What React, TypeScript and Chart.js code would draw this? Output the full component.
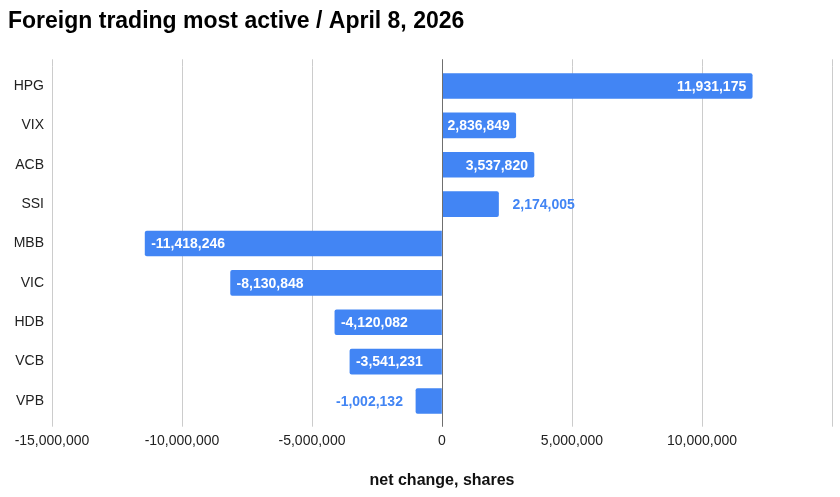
import React, { useEffect, useRef } from "react";
import { Chart, registerables } from "chart.js";

Chart.register(...registerables);

const TITLE = "Foreign trading most active / April 8, 2026";
const AXIS_TITLE = "net change, shares";
const categories = ["HPG", "VIX", "ACB", "SSI", "MBB", "VIC", "HDB", "VCB", "VPB"];
const netChange = [11931175, 2836849, 3537820, 2174005, -11418246, -8130848, -4120082, -3541231, -1002132];
const xMin = -15000000;
const xMax = 15000000;
const xStep = 5000000;

const BLUE = "#4285F4";
const FONT = '"Liberation Sans", Arial, sans-serif';
const fmt = (v: number) => Number(v).toLocaleString("en-US");

const labelPlugin = {
  id: "barLabels",
  afterDatasetsDraw(chart: any) {
    const ctx = chart.ctx;
    const area = chart.chartArea;
    const xs = chart.scales.x;
    // grid extension above the plot and the zero baseline
    ctx.save();
    ctx.lineWidth = 1;
    xs.ticks.forEach((t: any) => {
      const px = Math.round(xs.getPixelForValue(t.value)) + 0.5;
      ctx.strokeStyle = "#cccccc";
      ctx.beginPath();
      ctx.moveTo(px, area.top - 7);
      ctx.lineTo(px, area.top);
      ctx.stroke();
    });
    const zx = Math.round(xs.getPixelForValue(0)) + 0.5;
    ctx.strokeStyle = "#6f6f6f";
    ctx.beginPath();
    ctx.moveTo(zx, area.top - 7);
    ctx.lineTo(zx, area.bottom + 6);
    ctx.stroke();

    const meta = chart.getDatasetMeta(0);
    ctx.font = "bold 14px " + FONT;
    ctx.textBaseline = "middle";
    meta.data.forEach((bar: any, i: number) => {
      const v = netChange[i];
      const text = fmt(v);
      const w = ctx.measureText(text).width;
      const { x, base, y } = bar.getProps(["x", "base", "y"], true);
      const len = Math.abs(x - base);
      const pos = v >= 0;
      if (w + 10 <= len) {
        ctx.fillStyle = "#ffffff";
        ctx.textAlign = pos ? "right" : "left";
        ctx.fillText(text, pos ? x - 6 : x + 6, y + 1);
      } else {
        ctx.fillStyle = BLUE;
        ctx.textAlign = pos ? "left" : "right";
        ctx.fillText(text, pos ? x + 14 : x - 13, y + 1);
      }
    });
    ctx.restore();
  },
};

export default function App() {
  const ref = useRef<HTMLCanvasElement | null>(null);
  useEffect(() => {
    document.body.style.margin = "0";
    const canvas = ref.current!;
    const chart = new Chart(canvas, {
      type: "bar",
      data: {
        labels: categories,
        datasets: [
          {
            data: netChange,
            backgroundColor: BLUE,
            borderRadius: 2,
            barThickness: 25,
          },
        ],
      },
      options: {
        indexAxis: "y",
        responsive: false,
        animation: false,
        devicePixelRatio: 1,
        layout: { padding: { left: 8, right: 8, top: 8, bottom: 0 } },
        plugins: {
          legend: { display: false },
          tooltip: { enabled: false },
          title: {
            display: true,
            text: TITLE,
            align: "start",
            color: "#000000",
            font: { family: FONT, size: 23, weight: "bold" },
            padding: { top: 0, bottom: 30.7 },
          },
        },
        scales: {
          x: {
            type: "linear",
            min: xMin,
            max: xMax,
            border: { display: false },
            grid: {
              color: "#cccccc",
              lineWidth: 1,
              drawTicks: true,
              tickLength: 6,
            },
            ticks: {
              stepSize: xStep,
              autoSkip: false,
              maxRotation: 0,
              padding: 6,
              color: "#222222",
              font: { family: FONT, size: 14 },
              callback: (v: any) => (Number(v) === xMax ? "" : fmt(Number(v))),
            },
            title: {
              display: true,
              text: AXIS_TITLE,
              color: "#111111",
              font: { family: FONT, size: 16, weight: "bold" },
              padding: { top: 0, bottom: 6.4 },
            },
            afterFit: (s: any) => {
              s.height = 76.3;
            },
          },
          y: {
            type: "category",
            border: { display: false },
            grid: { display: false, drawTicks: false },
            ticks: {
              padding: 8,
              color: "#222222",
              font: { family: FONT, size: 14 },
            },
            afterFit: (s: any) => {
              s.width = 44;
            },
          },
        },
      },
      plugins: [labelPlugin],
    } as any);
    return () => chart.destroy();
  }, []);
  return (
    <div style={{ width: 840, height: 497 }}>
      <canvas ref={ref} width={840} height={497} style={{ display: "block" }} />
    </div>
  );
}
